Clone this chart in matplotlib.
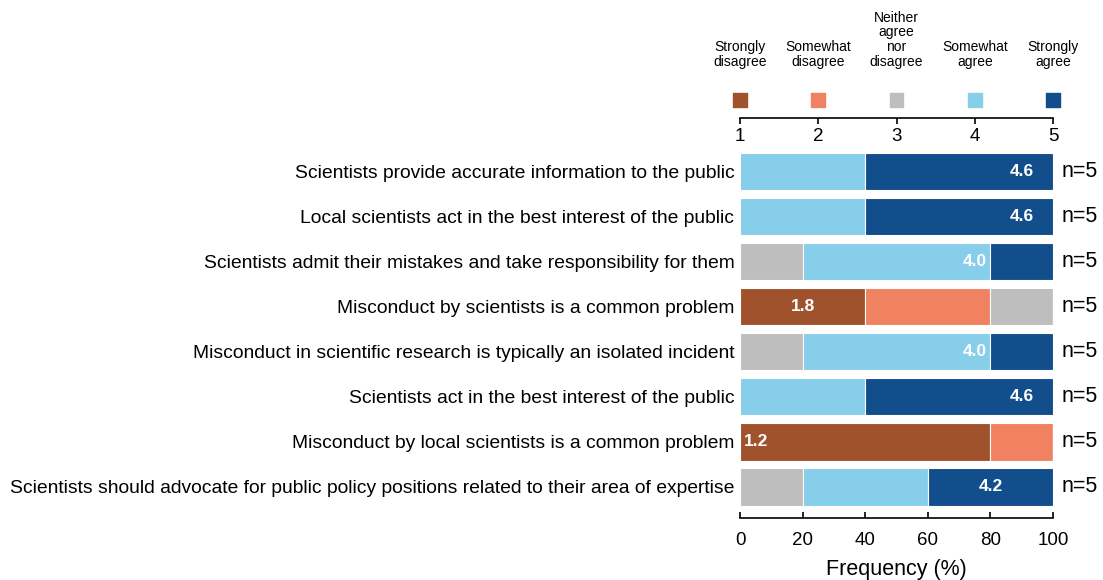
#!/usr/bin/env python3
# Likert stacked bars for trust-in-scientists survey items

from matplotlib import pyplot as plt
import numpy as np

plt.rcParams["font.family"] = ["Liberation Sans", "DejaVu Sans"]

# ---- data ----
statements = [
    "Scientists provide accurate information to the public",
    "Local scientists act in the best interest of the public",
    "Scientists admit their mistakes and take responsibility for them",
    "Misconduct by scientists is a common problem",
    "Misconduct in scientific research is typically an isolated incident",
    "Scientists act in the best interest of the public",
    "Misconduct by local scientists is a common problem",
    "Scientists should advocate for public policy positions related to their area of expertise",
]
levels = [1, 2, 3, 4, 5]
level_names = ["Strongly\ndisagree", "Somewhat\ndisagree", "Neither\nagree\nnor\ndisagree",
               "Somewhat\nagree", "Strongly\nagree"]
colors = ["#A0522D", "#F08262", "#BEBEBE", "#87CEEB", "#124E8C"]

# percent of respondents at each level (1..5)
pct_1 = [0, 0, 0, 40, 0, 0, 80, 0]
pct_2 = [0, 0, 0, 40, 0, 0, 20, 0]
pct_3 = [0, 0, 20, 20, 20, 0, 0, 20]
pct_4 = [40, 40, 60, 0, 60, 40, 0, 40]
pct_5 = [60, 60, 20, 0, 20, 60, 0, 40]
n_resp = [5, 5, 5, 5, 5, 5, 5, 5]
x_ticks = [0, 20, 40, 60, 80, 100]

pcts = np.array([pct_1, pct_2, pct_3, pct_4, pct_5], dtype=float)
means = (pcts * np.array(levels)[:, None]).sum(axis=0) / 100.0

W, H = 1103, 580
fig = plt.figure(figsize=(W / 100, H / 100), dpi=100)

x0, x1 = 740, 1053
ax_top_px, ax_bot_px = 150, 518
ax = fig.add_axes([x0 / W, 1 - ax_bot_px / H, (x1 - x0) / W, (ax_bot_px - ax_top_px) / H])

y = np.arange(len(statements))
left = np.zeros(len(statements))
for k in range(len(levels)):
    ax.barh(y, pcts[k], left=left, height=0.83, color=colors[k],
            edgecolor="white", linewidth=0.8)
    left += pcts[k]

for i, m in enumerate(means):
    ax.text((m - 1) / 4 * 100, i, "%.1f" % m, ha="center", va="center",
            color="white", fontsize=12.5, fontweight="bold")
    ax.text(102.8, i, "n=%d" % n_resp[i], ha="left", va="center", fontsize=15.5,
            clip_on=False)

ax.set_xlim(0, 100)
ax.set_ylim(7.69, -0.477)
ax.set_yticks(y)
ax.set_yticklabels(statements, fontsize=13.9)
ax.tick_params(axis="y", length=0, pad=4)
ax.set_xticks(x_ticks)
ax.tick_params(axis="x", labelsize=13.5, length=4, width=1.2, direction="in", pad=10)
for s in ["left", "right", "top"]:
    ax.spines[s].set_visible(False)
ax.spines["bottom"].set_bounds(0, 100)
ax.spines["bottom"].set_linewidth(1.2)
ax.set_xlabel("Frequency (%)", fontsize=15.5, labelpad=7)

# ---- top legend scale ----
line_px = 118
axl = fig.add_axes([x0 / W, 1 - line_px / H, (x1 - x0) / W, line_px / H])
axl.set_xlim(1, 5)
axl.set_ylim(0, line_px)
axl.patch.set_visible(False)
for s in ["left", "right", "top"]:
    axl.spines[s].set_visible(False)
axl.spines["bottom"].set_linewidth(1.2)
axl.set_yticks([])
axl.set_xticks(levels)
axl.tick_params(axis="x", labelsize=13.5, length=4, width=1.2, direction="out", pad=3.5)
axl.scatter(levels, [18] * len(levels), marker="s", s=100, c=colors, clip_on=False)
for lv, name in zip(levels, level_names):
    axl.text(lv, 49, name, ha="center", va="bottom", fontsize=10, linespacing=1.07,
             clip_on=False)

plt.savefig("out.png", dpi=100)
